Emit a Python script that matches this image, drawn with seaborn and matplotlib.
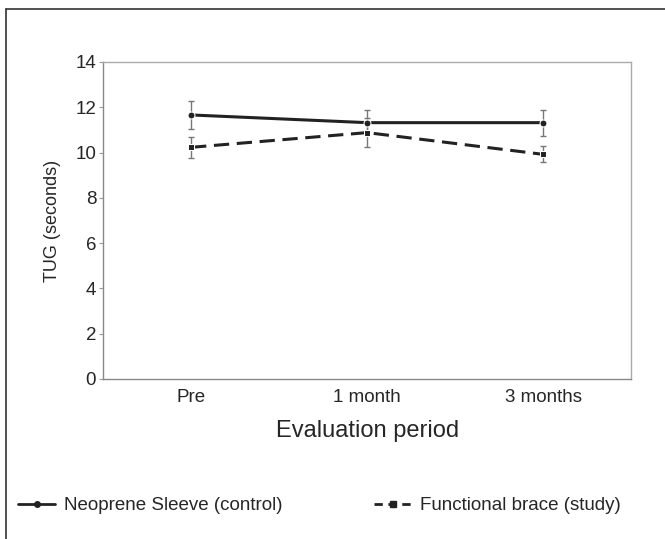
import numpy as np
import pandas as pd
import seaborn as sns
import matplotlib.pyplot as plt
from matplotlib.lines import Line2D

# data
periods = ["Pre", "1 month", "3 months"]
neoprene_mean = [11.66, 11.32, 11.32]
neoprene_sd = [0.63, 0.55, 0.58]
brace_mean = [10.23, 10.88, 9.92]
brace_sd = [0.45, 0.65, 0.35]
groups = ["Neoprene Sleeve (control)", "Functional brace (study)"]

df = pd.DataFrame({
    "period": periods * 2,
    "tug": neoprene_mean + brace_mean,
    "sd": neoprene_sd + brace_sd,
    "group": [groups[0]] * 3 + [groups[1]] * 3,
})

sns.set_style("white")
plt.rcParams['font.family'] = ['Liberation Sans', 'DejaVu Sans']

fig = plt.figure(figsize=(6.65, 5.39), dpi=100)
ax = fig.add_axes([0.155, 0.297, 0.794, 0.588])

line_col = "#222222"
sns.lineplot(data=df, x="period", y="tug", hue="group", style="group",
             markers={groups[0]: "o", groups[1]: "s"},
             dashes={groups[0]: "", groups[1]: (5, 2.5)},
             palette={groups[0]: line_col, groups[1]: line_col},
             linewidth=2.2, markersize=5, ax=ax, legend=False, sort=False)

for g in groups:
    sub = df[df["group"] == g]
    ax.errorbar(np.arange(len(periods)), sub["tug"], yerr=sub["sd"], fmt="none",
                ecolor="#777777", elinewidth=1, capsize=2.5, capthick=1, zorder=1)

ax.set_xlim(-0.5, 2.5)
ax.set_ylim(0, 14)
ax.set_yticks(range(0, 15, 2))
ax.tick_params(axis="y", left=True, length=3, color="#999999", labelsize=13.5, pad=2)
ax.tick_params(axis="x", bottom=False, labelsize=13.5, pad=4)
for s in ax.spines.values():
    s.set_color("#aaaaaa")
    s.set_linewidth(1)
ax.spines["left"].set_color("#888888")
ax.spines["bottom"].set_color("#888888")
ax.set_xlabel("Evaluation period", fontsize=17, labelpad=10)
ax.set_ylabel("TUG (seconds)", fontsize=13, labelpad=10)

handles = [
    Line2D([], [], color=line_col, lw=2, marker="o", markersize=4),
    Line2D([], [], color=line_col, lw=2, marker="s", markersize=4, dashes=(3, 2)),
]
fig.legend(handles, groups, ncol=2, loc="center left", bbox_to_anchor=(0.0015, 0.062),
           frameon=False, fontsize=13.5, handlelength=2.0, handletextpad=0.45,
           columnspacing=4.9)

# frame lines of the original panel (top and left)
fig.add_artist(Line2D([6 / 665, 1], [1 - 9 / 539, 1 - 9 / 539], color="#333333", lw=1.2,
                      transform=fig.transFigure))
fig.add_artist(Line2D([6 / 665, 6 / 665], [0, 1 - 9 / 539], color="#333333", lw=1.2,
                      transform=fig.transFigure))

fig.savefig("out.png", dpi=100)
